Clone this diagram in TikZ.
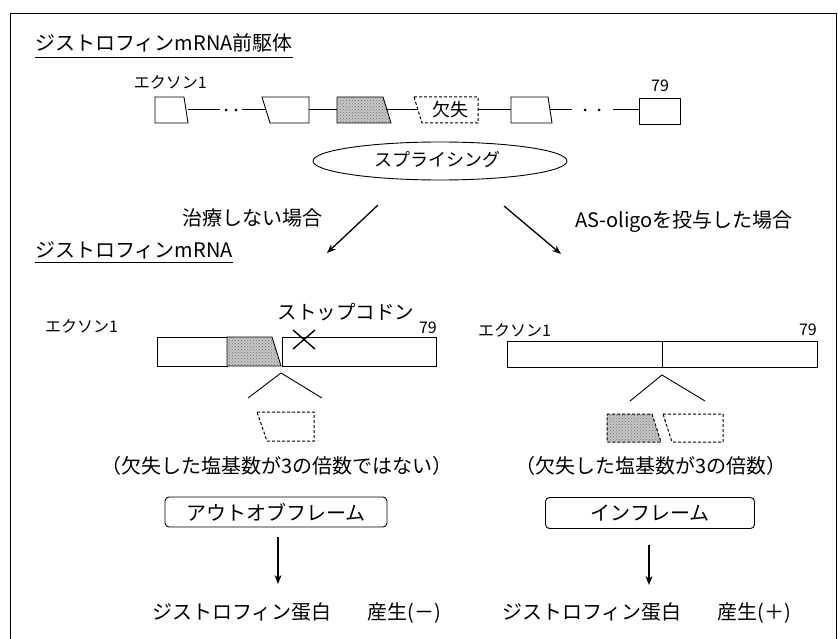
\documentclass[tikz,border=0pt]{standalone}
\usepackage{fontspec}
\setmainfont{Noto Sans CJK JP}
\usetikzlibrary{arrows.meta,shapes.geometric,patterns}
\begin{document}
\begin{tikzpicture}[x=1pt,y=-1pt,
  ln/.style={line width=1pt},
  exon/.style={draw,line width=0.9pt,fill=white},
  shadex/.style={draw,line width=0.9pt,fill=gray!45,postaction={pattern=crosshatch dots,pattern color=gray!90!black}},
  dsh/.style={draw,line width=1pt,dash pattern=on 3pt off 2pt},
  arr/.style={line width=1.3pt,-{Stealth[length=9pt,width=7pt]}},
  txt/.style={inner sep=0pt,font=\fontsize{#1}{#1}\selectfont},
  txt/.default=20,
  framebox/.style={draw,line width=0.9pt,rounded corners=4pt}
]
\fill[white] (0,0) rectangle (838,639);
\useasboundingbox (0,0) rectangle (838,639);
% outer frame
\draw[line width=0.9pt] (10,660) -- (10,13) -- (836,13) -- (836,660);

% ---------- title 1
\node[txt, anchor=west] (t1) at (35,43) {ジストロフィンmRNA前駆体};
\coordinate (u1) at (0,57);
\draw[line width=0.9pt] (t1.west |- u1) -- (t1.east |- u1);

% ---------- pre-mRNA row
\coordinate (r1) at (188,110); \coordinate (r2) at (220,110);
\coordinate (r3) at (242,110); \coordinate (r4) at (266,110);
\coordinate (r5) at (309,110); \coordinate (r6) at (337,110);
\coordinate (r7) at (387,110); \coordinate (r8) at (418,110);
\coordinate (r9) at (478,110); \coordinate (r10) at (511,110);
\coordinate (r11) at (550,110); \coordinate (r12) at (572,110);
\coordinate (r13) at (613,110); \coordinate (r14) at (639,110);
\draw[ln] (r1) -- (r2); \draw[ln] (r3) -- (r4);
\draw[ln] (r5) -- (r6); \draw[ln] (r7) -- (r8);
\draw[ln] (r9) -- (r10); \draw[ln] (r11) -- (r12);
\draw[ln] (r13) -- (r14);
\fill (226,110) circle (1.5); \fill (236,110) circle (1.5);
\fill (585,110) circle (1.5); \fill (599,110) circle (1.5);

\draw[exon] (155,97) -- (184,97) -- (188,123) -- (155,123) -- cycle;
\draw[exon] (262,97) -- (309,97) -- (309,123) -- (270,123) -- cycle;
\draw[shadex] (337,97) -- (383,97) -- (391,123) -- (337,123) -- cycle;
\draw[dsh] (414,97) -- (478,97) -- (478,123) -- (422,123) -- cycle;
\node[txt=18] (del) at (450,110) {欠失};
\draw[exon] (511,97) -- (548,97) -- (552,123) -- (511,123) -- cycle;
\draw[exon] (639,98) -- (680,98) -- (680,124) -- (639,124) -- cycle;
\node[txt=16, anchor=east] (ex1a) at (207,82) {エクソン1};
\node[txt=16] (n79a) at (660,86) {79};

% ---------- splicing
\node[draw, ellipse, line width=0.9pt, minimum width=254pt, minimum height=38pt, inner sep=0pt] (spl) at (440,161) {};
\node[txt=18] (splt) at (437,160) {スプライシング};

\coordinate (aL1) at (378,205); \coordinate (aL2) at (327,253);
\coordinate (aR1) at (504,206); \coordinate (aR2) at (561,254);
\draw[arr] (aL1) -- (aL2);
\draw[arr] (aR1) -- (aR2);
\node[txt] (notr) at (252,218) {治療しない場合};
\node[txt, anchor=west] (aso) at (575,222) {AS-oligoを投与した場合};

% ---------- title 2
\node[txt, anchor=west] (t2) at (35,250) {ジストロフィンmRNA};
\coordinate (u2) at (0,262);
\draw[line width=0.9pt] (t2.west |- u2) -- (t2.east |- u2);

% ---------- left mRNA
\draw[exon] (157,337) -- (227,337) -- (227,366) -- (157,366) -- cycle;
\draw[shadex] (227,337) -- (272,337) -- (281,366) -- (227,366) -- cycle;
\draw[exon] (282,337) -- (436,337) -- (436,366) -- (282,366) -- cycle;
\node[txt=16, anchor=west] (ex1b) at (45,326) {エクソン1};
\node[txt=16, anchor=east] (n79b) at (437,328) {79};
\node[txt=19.5] (stop) at (346,312) {ストップコドン};
\draw[line width=1.4pt] (293,330) -- (315,349);
\draw[line width=1.4pt] (293,349) -- (315,330);

\coordinate (cL) at (281,373);
\coordinate (cL1) at (248,398); \coordinate (cL2) at (322,398);
\draw[line width=0.9pt] (cL1) -- (cL) -- (cL2);
\draw[dsh] (257,412) -- (314,412) -- (314,441) -- (267,441) -- cycle;

% ---------- right mRNA
\draw[exon] (507,341) rectangle (817,367);
\draw[line width=0.9pt] (662,341) -- (662,367);
\node[txt=16, anchor=west] (ex1c) at (478,330) {エクソン1};
\node[txt=16, anchor=east] (n79c) at (817,330) {79};

\coordinate (cR) at (662,375);
\coordinate (cR1) at (630,401); \coordinate (cR2) at (705,401);
\draw[line width=0.9pt] (cR1) -- (cR) -- (cR2);
\fill[gray!45,postaction={pattern=crosshatch dots,pattern color=gray!90!black}] (607,414) -- (652,414) -- (661,442) -- (607,442) -- cycle;
\draw[dsh] (607,414) -- (652,414) -- (661,442) -- (607,442) -- cycle;
\draw[dsh] (663,414) -- (723,414) -- (723,442) -- (672,442) -- cycle;

% ---------- captions
\node[txt] (capL) at (277,466) {（欠失した塩基数が3の倍数ではない）};
\node[txt] (capR) at (651,466) {（欠失した塩基数が3の倍数）};

\node[framebox, minimum width=222pt, minimum height=30pt, inner sep=0pt, font=\fontsize{20}{20}\selectfont] (oof) at (276,512) {アウトオブフレーム};
\node[framebox, minimum width=209pt, minimum height=31pt, inner sep=0pt, font=\fontsize{20}{20}\selectfont] (inf) at (650,513) {インフレーム};

\node[txt, anchor=west] (resL) at (152,613) {ジストロフィン蛋白　\hspace{0.8em}産生(－)};
\node[txt, anchor=west] (resR) at (502,613) {ジストロフィン蛋白　\hspace{0.8em}産生(＋)};

\coordinate (dL1) at (278,537); \coordinate (dL2) at (278,584);
\coordinate (dR1) at (649,545); \coordinate (dR2) at (649,585);
\draw[arr] (dL1) -- (dL2);
\draw[arr] (dR1) -- (dR2);
\end{tikzpicture}
\end{document}
